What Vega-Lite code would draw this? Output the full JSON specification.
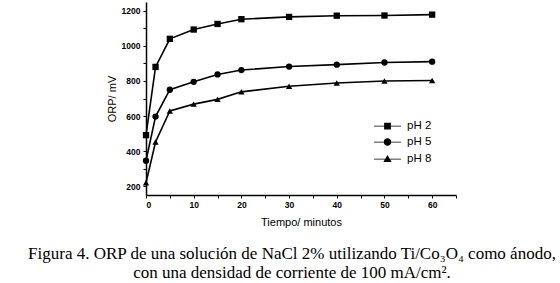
{
  "$schema": "https://vega.github.io/schema/vega-lite/v6.json",
  "autosize": {"type": "none"},
  "width": 310,
  "height": 193,
  "padding": {"left": 146, "top": 2, "right": 104, "bottom": 88},
  "background": "white",
  "config": {
    "view": {"stroke": null},
    "font": "Liberation Sans",
    "axis": {"grid": false, "domainColor": "black", "domainWidth": 1.5, "tickColor": "black", "tickWidth": 1, "labelFont": "Liberation Sans", "labelFontWeight": "bold", "labelFontSize": 8.5, "labelColor": "black", "titleFont": "Liberation Sans", "titleFontWeight": "normal", "titleFontSize": 11, "titleColor": "black"}
  },
  "title": {
    "text": ["Figura 4. ORP de una solución de NaCl 2% utilizando Ti/Co₃O₄ como ánodo,", "con una densidad de corriente de 100 mA/cm²."],
    "orient": "bottom",
    "anchor": "middle",
    "frame": "group",
    "font": "Liberation Serif",
    "fontSize": 17,
    "fontWeight": "normal",
    "color": "black",
    "lineHeight": 19.5,
    "dx": -9,
    "offset": 18
  },
  "data": {"values": [
    {"t": 0, "orp": 491, "serie": "pH 2"},
    {"t": 2, "orp": 880, "serie": "pH 2"},
    {"t": 5, "orp": 1040, "serie": "pH 2"},
    {"t": 10, "orp": 1093, "serie": "pH 2"},
    {"t": 15, "orp": 1125, "serie": "pH 2"},
    {"t": 20, "orp": 1152, "serie": "pH 2"},
    {"t": 30, "orp": 1165, "serie": "pH 2"},
    {"t": 40, "orp": 1172, "serie": "pH 2"},
    {"t": 50, "orp": 1173, "serie": "pH 2"},
    {"t": 60, "orp": 1178, "serie": "pH 2"},
    {"t": 0, "orp": 345, "serie": "pH 5"},
    {"t": 2, "orp": 597, "serie": "pH 5"},
    {"t": 5, "orp": 750, "serie": "pH 5"},
    {"t": 10, "orp": 795, "serie": "pH 5"},
    {"t": 15, "orp": 837, "serie": "pH 5"},
    {"t": 20, "orp": 862, "serie": "pH 5"},
    {"t": 30, "orp": 882, "serie": "pH 5"},
    {"t": 40, "orp": 893, "serie": "pH 5"},
    {"t": 50, "orp": 905, "serie": "pH 5"},
    {"t": 60, "orp": 910, "serie": "pH 5"},
    {"t": 0, "orp": 220, "serie": "pH 8"},
    {"t": 2, "orp": 452, "serie": "pH 8"},
    {"t": 5, "orp": 629, "serie": "pH 8"},
    {"t": 10, "orp": 668, "serie": "pH 8"},
    {"t": 15, "orp": 695, "serie": "pH 8"},
    {"t": 20, "orp": 738, "serie": "pH 8"},
    {"t": 30, "orp": 770, "serie": "pH 8"},
    {"t": 40, "orp": 788, "serie": "pH 8"},
    {"t": 50, "orp": 800, "serie": "pH 8"},
    {"t": 60, "orp": 803, "serie": "pH 8"}
  ]},
  "encoding": {
    "x": {"field": "t", "type": "quantitative", "scale": {"domain": [0, 65], "nice": false, "zero": false},
      "axis": {"title": "Tiempo/ minutos", "values": [0,5,10,15,20,25,30,35,40,45,50,55,60,65], "labelExpr": "datum.value % 10 == 0 && datum.value <= 60 ? datum.label : ''", "tickSize": 3, "labelPadding": 2, "titlePadding": 8}},
    "y": {"field": "orp", "type": "quantitative", "scale": {"domain": [150, 1250], "nice": false, "zero": false},
      "axis": {"title": "ORP/ mV", "values": [200,300,400,500,600,700,800,900,1000,1100,1200], "labelExpr": "datum.value % 200 == 0 ? datum.label : ''", "format": "d", "tickSize": 3, "labelPadding": 3, "titlePadding": 4}}
  },
  "resolve": {"scale": {"shape": "independent"}, "legend": {"shape": "independent"}},
  "layer": [
    {"mark": {"type": "line", "color": "black", "strokeWidth": 1.6},
     "encoding": {"detail": {"field": "serie"}}},
    {"mark": {"type": "point", "filled": true, "color": "black", "opacity": 1, "size": 40},
     "encoding": {"shape": {"field": "serie", "type": "nominal",
       "scale": {"domain": ["pH 2", "pH 5", "pH 8"], "range": ["square", "circle", "triangle-up"]},
       "legend": null}}},
    {"mark": {"type": "point", "filled": true, "color": "black", "opacity": 0, "size": 225},
     "encoding": {"shape": {"field": "serie", "type": "nominal",
       "scale": {"domain": ["pH 2", "pH 5", "pH 8"], "range": [
         "M-1.8,-0.05H1.8V0.05H-1.8ZM-0.45,-0.45H0.45V0.45H-0.45Z",
         "M-1.8,-0.05H1.8V0.05H-1.8ZM-0.5,0A0.5,0.5 0 1,1 0.5,0A0.5,0.5 0 1,1 -0.5,0Z",
         "M-1.8,-0.05H1.8V0.05H-1.8ZM0,-0.55L0.55,0.4H-0.55Z"]},
       "legend": {"title": null, "orient": "none", "legendX": 233, "legendY": 115.5,
         "symbolSize": 225, "symbolOpacity": 1, "symbolFillColor": "black",
         "labelFont": "Liberation Sans", "labelFontSize": 11.5, "labelColor": "black", "labelOffset": 11, "rowPadding": 1}}}}
  ]
}
